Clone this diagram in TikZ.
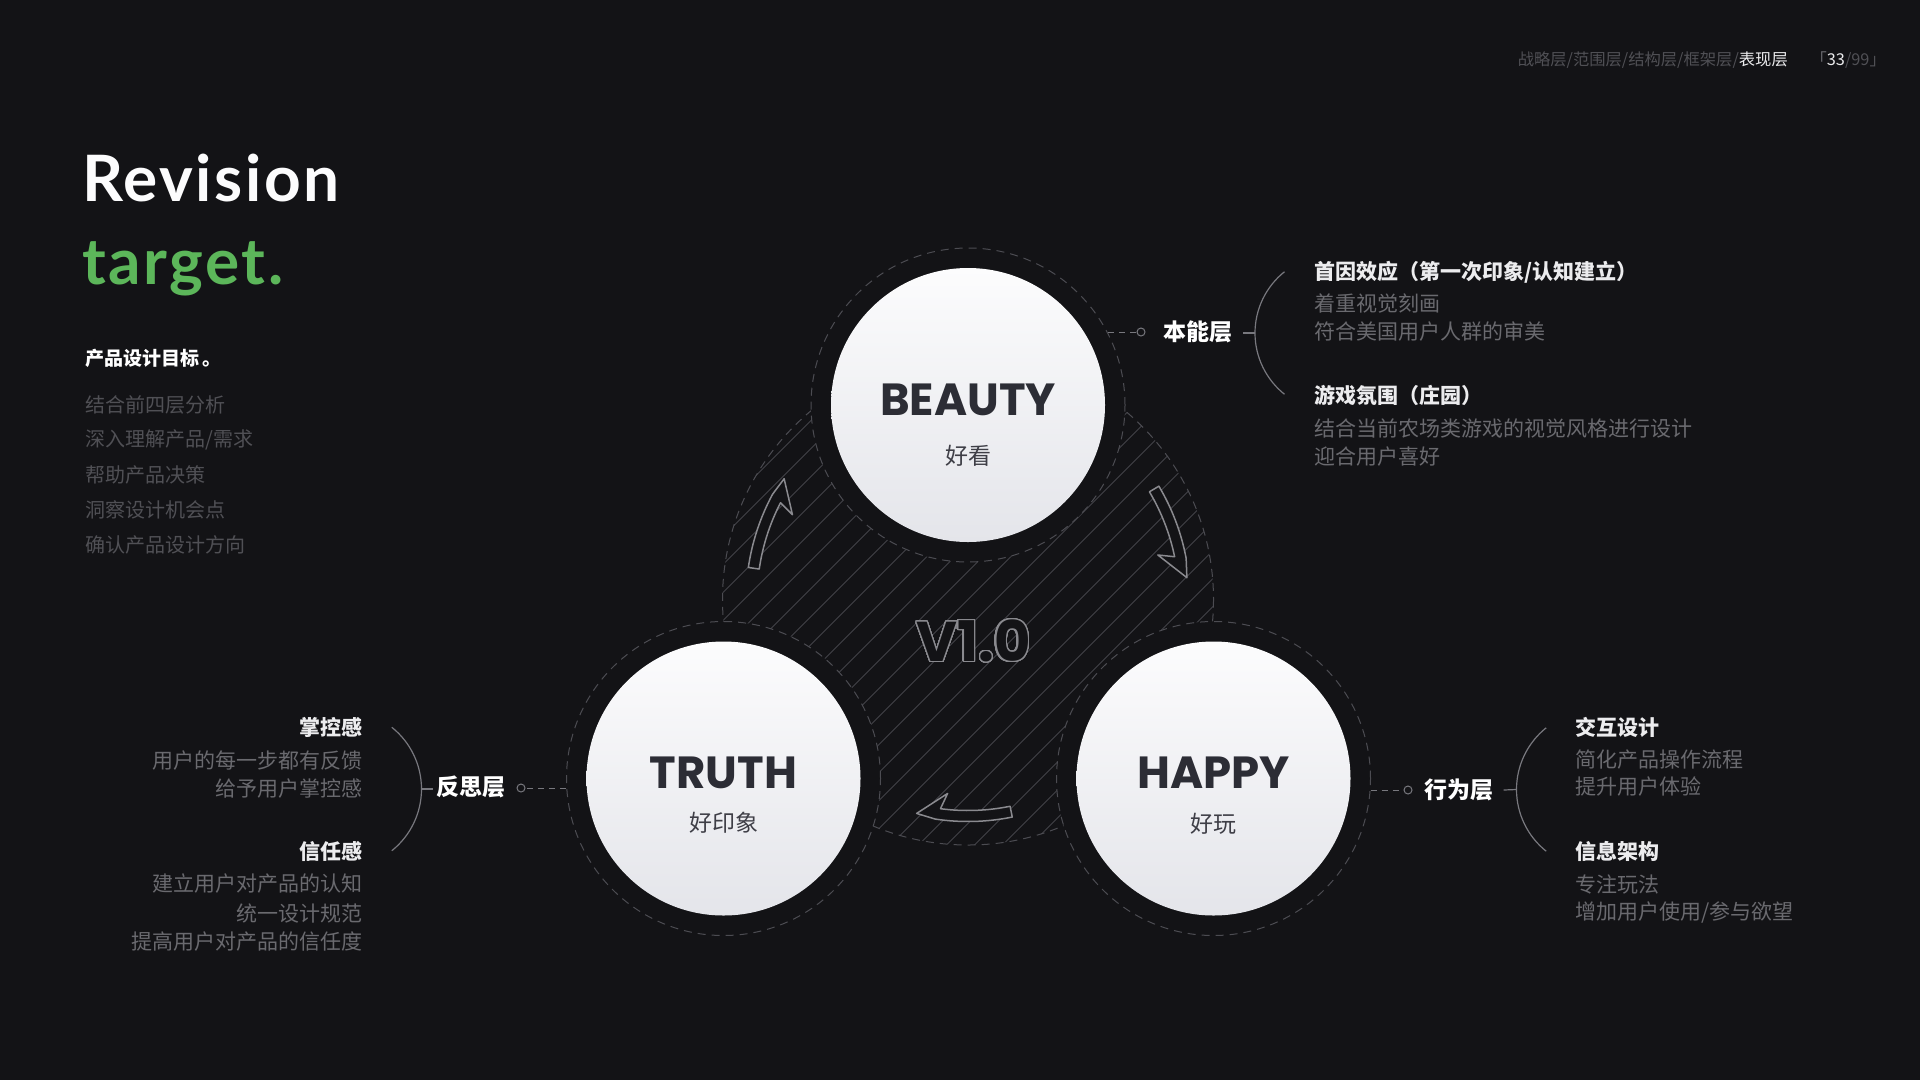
\documentclass[tikz,border=0pt]{standalone}
\usepackage{fontspec}
\usepackage{contour}
\setmainfont{Lato}
\newfontfamily\display{Lato}[LetterSpace=4]
\newfontfamily\cjk{Noto Sans CJK SC}
\newfontfamily\pop{Poppins}
\usetikzlibrary{calc}
\definecolor{InkBlack}{RGB}{19,19,22}
\definecolor{LeafGreen}{RGB}{92,182,90}
\definecolor{Slate}{RGB}{44,45,53}
\definecolor{SlateSoft}{RGB}{62,62,70}
\definecolor{MistGray}{RGB}{106,106,111}
\definecolor{DimGray}{RGB}{80,80,85}
\definecolor{RingGray}{RGB}{76,76,82}
\definecolor{HatchGray}{RGB}{66,66,72}
\definecolor{ArrowGray}{RGB}{138,138,143}
\definecolor{BraceGray}{RGB}{120,120,126}
\definecolor{PaleWhite}{RGB}{236,236,238}
\definecolor{SnowWhite}{RGB}{252,252,253}
\definecolor{Frost}{RGB}{228,229,234}
\contourlength{1.3pt}
\contournumber{48}

\begin{document}
\begin{tikzpicture}[x=1pt,y=-1pt,font=\cjk,
    ring/.style={circle,draw=RingGray,fill=InkBlack,line width=1pt,
      dash pattern=on 8pt off 6pt,minimum size=314pt,inner sep=0pt},
    ball/.style={circle,minimum size=274pt,inner sep=0pt,
      top color=SnowWhite,bottom color=Frost},
    word/.style={font={\pop\bfseries\fontsize{45}{45}\selectfont},text=Slate,inner sep=0pt},
    gloss/.style={font={\cjk\fontsize{23}{23}\selectfont},text=SlateSoft,inner sep=0pt},
    layer/.style={font={\cjk\bfseries\fontsize{23}{23}\selectfont},text=white,inner sep=0pt},
    dot/.style={circle,draw=BraceGray,fill=InkBlack,line width=1pt,minimum size=8pt,inner sep=0pt},
    lead/.style={draw=BraceGray,line width=1pt,dash pattern=on 6pt off 5pt},
    brace/.style={draw=BraceGray,line width=1.2pt},
    head/.style={font={\cjk\bfseries\fontsize{21}{21}\selectfont},text=PaleWhite,inner sep=0pt},
    note/.style={font={\cjk\fontsize{21}{21}\selectfont},text=MistGray,inner sep=0pt},
    hatch/.style={draw=HatchGray,line width=.8pt},
    swirl/.style={draw=ArrowGray,fill=InkBlack,line width=1.5pt,line join=round}]
  \useasboundingbox (0,0) rectangle (1920,1080);
  \fill[InkBlack] (0,0) rectangle (1920,1080);

  \node[anchor=east,inner sep=0pt,font={\cjk\fontsize{16.3}{16.3}\selectfont}] (crumbs) at (1788,60)
    {\color{DimGray}战略层/范围层/结构层/框架层/\color{PaleWhite}表现层};
  \node[anchor=east,inner sep=0pt,font={\cjk\fontsize{16.3}{16.3}\selectfont}] (pageno) at (1886,60)
    {\color{MistGray}「\color{PaleWhite}33\color{DimGray}/99」};

  \node[anchor=base west,inner sep=0pt,text=SnowWhite,
    font={\display\bfseries\fontsize{64}{64}\selectfont}] (revision) at (82,201) {Revision};
  \node[anchor=base west,inner sep=0pt,text=LeafGreen,
    font={\display\bfseries\fontsize{64}{64}\selectfont}] (target) at (82,284) {target.};
  \node[anchor=west,inner sep=0pt,text=white,
    font={\cjk\bfseries\fontsize{19}{19}\selectfont}] (aim) at (85,358) {产品设计目标\,。};
  \foreach \txt [count=\i] in {结合前四层分析,{深入理解产品/需求},帮助产品决策,洞察设计机会点,确认产品设计方向}
    \node[anchor=west,inner sep=0pt,text=DimGray,font={\cjk\fontsize{20}{20}\selectfont}]
      (aim\i) at (85,370+35*\i) {\txt};

  \coordinate (hub) at (968,599.5);
  \begin{scope}
    \clip (hub) circle (245.5);
    \foreach \k in {-14,...,14}
      \draw[hatch] ($(hub)+(\k*28-300,300)$) -- ++(600,-600);
  \end{scope}
  \draw[draw=RingGray,line width=1pt,dash pattern=on 8pt off 6pt] (hub) circle (245.5);

  \node[ring] (beautyring) at (968,405) {};
  \node[ring] (truthring) at (723.5,778.5) {};
  \node[ring] (happyring) at (1213.5,778.5) {};
  \node[ball] (beauty) at (beautyring) {};
  \node[ball] (truth) at (truthring) {};
  \node[ball] (happy) at (happyring) {};

  \node[word] (beautyword) at (968,400) {BEAUTY};
  \node[gloss] (beautygloss) at (968,455.5) {好看};
  \node[word] (truthword) at (723.5,772.7) {TRUTH};
  \node[gloss] (truthgloss) at (723.5,823) {好印象};
  \node[word] (happyword) at (1213.5,772.7) {HAPPY};
  \node[gloss] (happygloss) at (1213.5,824) {好玩};

  \begin{scope}[shift={(hub)}]
    \foreach \tip in {213.3,-5.7,103.5}{
      \pgfmathsetmacro\tail{\tip-25}
      \pgfmathsetmacro\bend{\tip-5}
      \pgfmathsetmacro\notch{\tip-6}
      \pgfmathsetmacro\barb{\tip-7.5}
      \draw[swirl] (\tail:222) arc[start angle=\tail,end angle=\bend,radius=222]
        -- (\tip:220) -- (\barb:195) -- (\notch:211)
        arc[start angle=\notch,end angle=\tail,radius=211] -- cycle;
    }
  \end{scope}
  \node[inner sep=0pt,text=InkBlack,font={\pop\bfseries\fontsize{56}{56}\selectfont}]
    (version) at (973.5,641.6) {\contour{ArrowGray}{V1.0}};

  % instinct layer
  \node[dot] (beautydot) at (1141,332) {};
  \draw[lead] (beautyring.27.7 |- beautydot) -- (beautydot);
  \node[layer] (beautylayer) at (1197.6,332) {本能层};
  \coordinate (beautybrace) at (1255,333);
  \draw[brace] ($(beautylayer.east)+(11,1)$) -- (beautybrace);
  \draw[brace] (beautybrace) arc[start angle=180,end angle=128.6,radius=78.4]
    (beautybrace) arc[start angle=180,end angle=231.4,radius=78.4];
  \node[head,anchor=west] (beautyheadA) at (1314,272) {首因效应（第一次印象/认知建立）};
  \node[head,anchor=west] (beautyheadB) at (1314,395.5) {游戏氛围（庄园）};
  \foreach \y/\txt [count=\i] in {303.7/着重视觉刻画,331.8/符合美国用户人群的审美,
      428.6/结合当前农场类游戏的视觉风格进行设计,456.7/迎合用户喜好}
    \node[note,anchor=west] (beautynote\i) at (1314,\y) {\txt};

  % reflective layer
  \node[dot] (truthdot) at (521,788) {};
  \draw[lead] (truthring.183.5 |- truthdot) -- (truthdot);
  \node[layer] (truthlayer) at (471.4,787) {反思层};
  \coordinate (truthbrace) at (421.5,789);
  \draw[brace] ($(truthlayer.west)+(-4,2)$) -- (truthbrace);
  \draw[brace] (truthbrace) arc[start angle=0,end angle=51.4,radius=79]
    (truthbrace) arc[start angle=0,end angle=-51.4,radius=79];
  \node[head,anchor=east] (truthheadA) at (362.5,727.4) {掌控感};
  \node[head,anchor=east] (truthheadB) at (362.5,851) {信任感};
  \foreach \y/\txt [count=\i] in {760.4/用户的每一步都有反馈,788.6/给予用户掌控感,
      884/建立用户对产品的认知,913.5/统一设计规范,941.6/提高用户对产品的信任度}
    \node[note,anchor=east] (truthnote\i) at (362.5,\y) {\txt};

  % behavioural layer
  \node[dot] (happydot) at (1408,790) {};
  \draw[lead] (happyring.-4.2 |- happydot) -- (happydot);
  \node[layer] (happylayer) at (1459,790) {行为层};
  \coordinate (happybrace) at (1516.5,789.5);
  \draw[brace] ($(happylayer.east)+(10,0)$) -- (happybrace);
  \draw[brace] (happybrace) arc[start angle=180,end angle=128.6,radius=79]
    (happybrace) arc[start angle=180,end angle=231.4,radius=79];
  \node[head,anchor=west] (happyheadA) at (1575,727.4) {交互设计};
  \node[head,anchor=west] (happyheadB) at (1575,851) {信息架构};
  \foreach \y/\txt [count=\i] in {759.2/简化产品操作流程,786/提升用户体验,
      884/专注玩法,912.3/{增加用户使用/参与欲望}}
    \node[note,anchor=west] (happynote\i) at (1575,\y) {\txt};
\end{tikzpicture}
\end{document}
